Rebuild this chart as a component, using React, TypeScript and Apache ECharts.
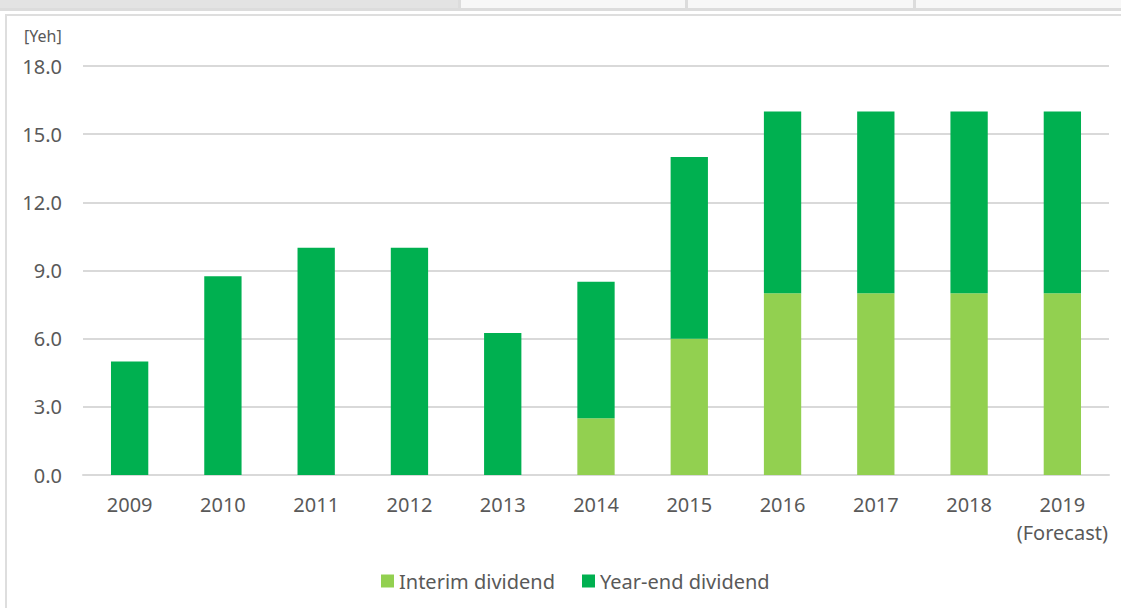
import React, { useEffect, useRef } from "react";
import * as echarts from "echarts";

const categories = ["2009", "2010", "2011", "2012", "2013", "2014", "2015", "2016", "2017", "2018", "2019\n(Forecast)"];
const interimDividend = [0, 0, 0, 0, 0, 2.5, 6, 8, 8, 8, 8];
const yearEndDividend = [5, 8.75, 10, 10, 6.25, 6, 8, 8, 8, 8, 8];
const seriesNames = ["Interim dividend", "Year-end dividend"];
const unitLabel = "[Yeh]";

const FONT = "'Noto Sans', 'Open Sans', sans-serif";
const TEXT = "#595959";

export default function App() {
  const ref = useRef<HTMLDivElement>(null);
  useEffect(() => {
    if (!ref.current) return;
    const chart = echarts.init(ref.current, null, { renderer: "svg" });
    chart.setOption({
      animation: false,
      backgroundColor: "#ffffff",
      textStyle: { fontFamily: FONT },
      graphic: [
        { type: "rect", left: 0, top: 0, shape: { width: 458, height: 8 }, style: { fill: "#e3e3e3" }, silent: true },
        { type: "rect", left: 458, top: 0, shape: { width: 663, height: 8 }, style: { fill: "#f7f7f7" }, silent: true },
        { type: "rect", left: 458, top: 0, shape: { width: 3, height: 8 }, style: { fill: "#dcdcdc" }, silent: true },
        { type: "rect", left: 685, top: 0, shape: { width: 3, height: 8 }, style: { fill: "#dcdcdc" }, silent: true },
        { type: "rect", left: 913, top: 0, shape: { width: 3, height: 8 }, style: { fill: "#dcdcdc" }, silent: true },
        { type: "rect", left: 0, top: 8, shape: { width: 1121, height: 3 }, style: { fill: "#dcdcdc" }, silent: true },
        { type: "rect", left: 5, top: 14, shape: { width: 1116, height: 2 }, style: { fill: "#dedede" }, silent: true },
        { type: "rect", left: 5, top: 14, shape: { width: 2, height: 594 }, style: { fill: "#dedede" }, silent: true },
        {
          type: "text",
          left: 24,
          top: 28,
          style: { text: unitLabel, fill: TEXT, fontSize: 16, fontFamily: FONT },
          silent: true,
        },
      ],
      grid: { left: 83, right: 12, top: 66, bottom: 133, containLabel: false },
      legend: {
        bottom: 12,
        left: 376,
        itemWidth: 13,
        itemHeight: 13,
        itemGap: 27,
        icon: "rect",
        textStyle: { fontSize: 20, color: TEXT, fontFamily: FONT, padding: [0, 0, 0, 0] },
        data: seriesNames,
      },
      xAxis: {
        type: "category",
        data: categories,
        axisTick: { show: false },
        axisLine: { lineStyle: { color: "#d9d9d9", width: 2 } },
        axisLabel: { interval: 0, fontSize: 20, color: TEXT, margin: 15, lineHeight: 28, fontFamily: FONT },
      },
      yAxis: {
        type: "value",
        min: 0,
        max: 18,
        interval: 3,
        axisLine: { show: false },
        axisTick: { show: false },
        splitLine: { lineStyle: { color: "#d9d9d9", width: 2 } },
        axisLabel: {
          fontSize: 20,
          color: TEXT,
          margin: 21,
          fontFamily: FONT,
          formatter: (v: number) => v.toFixed(1),
        },
      },
      series: [
        {
          name: seriesNames[0],
          type: "bar",
          stack: "total",
          barWidth: "40%",
          data: interimDividend,
          itemStyle: { color: "#92d050" },
        },
        {
          name: seriesNames[1],
          type: "bar",
          stack: "total",
          barWidth: "40%",
          data: yearEndDividend,
          itemStyle: { color: "#00b050" },
        },
      ],
    });
    return () => chart.dispose();
  }, []);
  return (
    <div
      ref={ref}
      style={{ position: "fixed", left: 0, top: 0, width: 1121, height: 608 }}
    />
  );
}
